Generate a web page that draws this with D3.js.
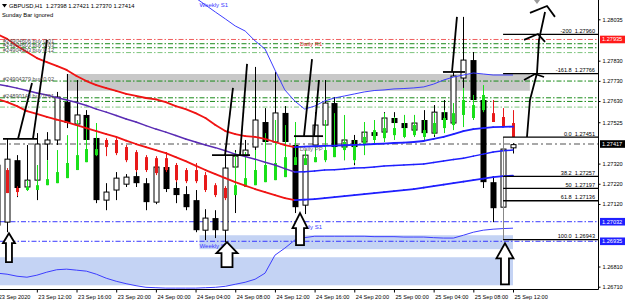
<!DOCTYPE html>
<html>
<head>
<meta charset="utf-8">
<script src="https://cdn.jsdelivr.net/npm/d3@7/dist/d3.min.js"></script>
<style>
  body { margin: 0; background: #fff; }
  text { font-family: "Liberation Sans", Arial, sans-serif; }
</style>
</head>
<body>
<svg id="chart" width="625" height="306"></svg>
<script>
// GBPUSD H1 bars, 23 Sep 08:00 .. 25 Sep 12:00 (53 bars)
var barOpen = [1.27015,1.27030,1.27337,1.27204,1.27238,1.27417,1.27437,1.27625,1.27516,1.27561,
  1.27447,1.27139,1.27189,1.27218,1.27258,1.27223,1.27129,1.27303,1.27199,1.27169,
  1.27139,1.26990,1.27050,1.26990,1.27303,1.27362,1.27402,1.27526,1.27427,1.27571,
  1.27412,1.27114,1.27412,1.27511,1.27620,1.27402,1.27437,1.27427,1.27476,1.27476,
  1.27546,1.27521,1.27486,1.27536,1.27471,1.27575,1.27521,1.27744,1.27833,1.27635,
  1.27228,1.27104,1.27398];
var barHigh = [1.27337,1.27442,1.27362,1.27412,1.27471,1.27476,1.27675,1.27764,1.27734,1.27585,
  1.27462,1.27223,1.27278,1.27268,1.27278,1.27248,1.27337,1.27337,1.27238,1.27208,
  1.27189,1.27094,1.27089,1.27377,1.27387,1.27437,1.27799,1.27595,1.27774,1.27605,
  1.27442,1.27387,1.27575,1.27734,1.27650,1.27471,1.27462,1.27506,1.27511,1.27575,
  1.27575,1.27561,1.27561,1.27585,1.27610,1.27635,1.27774,1.28047,1.27873,1.27685,
  1.27258,1.27412,1.27421];
var barLow = [1.26980,1.26980,1.27154,1.27189,1.27139,1.27337,1.27412,1.27496,1.27496,1.27422,
  1.27124,1.27089,1.27139,1.27204,1.27204,1.27089,1.27119,1.27179,1.27124,1.27089,
  1.26980,1.26941,1.26951,1.26931,1.27075,1.27327,1.27387,1.27387,1.27407,1.27407,
  1.27075,1.27070,1.27387,1.27496,1.27387,1.27337,1.27312,1.27397,1.27412,1.27437,
  1.27452,1.27462,1.27452,1.27437,1.27452,1.27511,1.27496,1.27635,1.27610,1.27199,
  1.27030,1.26943,1.27370];
var barClose = [1.27312,1.27342,1.27199,1.27238,1.27417,1.27437,1.27650,1.27521,1.27561,1.27437,
  1.27139,1.27179,1.27248,1.27253,1.27223,1.27129,1.27303,1.27194,1.27164,1.27104,
  1.26990,1.27050,1.26990,1.27298,1.27357,1.27387,1.27536,1.27427,1.27571,1.27427,
  1.27104,1.27362,1.27511,1.27620,1.27402,1.27437,1.27402,1.27476,1.27457,1.27546,
  1.27521,1.27496,1.27521,1.27471,1.27575,1.27536,1.27754,1.27833,1.27635,1.27228,
  1.27099,1.27392,1.27414];

// smoothed (heiken ashi style) overlay bars
var haOpen = [1.27313,1.27288,1.27199,1.27189,1.27189,1.27213,1.27223,1.27248,1.27288,1.27327,
  1.27362,1.27437,1.27437,1.27402,1.27377,1.27352,1.27347,1.27347,1.27313,1.27288,
  1.27288,1.27263,1.27213,1.27199,1.27164,1.27204,1.27213,1.27228,1.27238,1.27253,
  1.27313,1.27313,1.27327,1.27337,1.27352,1.27387,1.27337,1.27412,1.27437,1.27446,
  1.27461,1.27452,1.27461,1.27452,1.27471,1.27496,1.27511,1.27561,1.27546,1.27585,
  1.27570,1.27551,1.27521];
var haClose = [1.27213,1.27174,1.27179,1.27204,1.27213,1.27243,1.27278,1.27323,1.27362,1.27392,
  1.27392,1.27402,1.27372,1.27337,1.27288,1.27288,1.27273,1.27288,1.27238,1.27233,
  1.27233,1.27189,1.27164,1.27149,1.27213,1.27248,1.27288,1.27313,1.27323,1.27352,
  1.27352,1.27347,1.27352,1.27387,1.27402,1.27427,1.27412,1.27452,1.27486,1.27496,
  1.27496,1.27496,1.27511,1.27486,1.27521,1.27546,1.27570,1.27635,1.27610,1.27660,
  1.27526,1.27501,1.27452];
var haHigh = [1.27337,1.27298,1.27208,1.27238,1.27313,1.27337,1.27387,1.27461,1.27536,1.27546,
  1.27521,1.27446,1.27446,1.27412,1.27387,1.27362,1.27357,1.27377,1.27323,1.27298,
  1.27323,1.27278,1.27223,1.27208,1.27377,1.27377,1.27387,1.27471,1.27536,1.27511,
  1.27526,1.27387,1.27412,1.27536,1.27570,1.27561,1.27437,1.27526,1.27536,1.27570,
  1.27551,1.27561,1.27561,1.27536,1.27570,1.27585,1.27620,1.27695,1.27660,1.27709,
  1.27635,1.27595,1.27585];
var haLow = [1.27199,1.27174,1.27159,1.27184,1.27189,1.27213,1.27223,1.27248,1.27288,1.27327,
  1.27357,1.27357,1.27362,1.27327,1.27278,1.27278,1.27263,1.27278,1.27228,1.27223,
  1.27223,1.27179,1.27154,1.27139,1.27164,1.27204,1.27213,1.27228,1.27238,1.27253,
  1.27313,1.27313,1.27327,1.27327,1.27352,1.27337,1.27323,1.27362,1.27412,1.27427,
  1.27437,1.27446,1.27452,1.27437,1.27461,1.27471,1.27486,1.27501,1.27536,1.27575,
  1.27526,1.27501,1.27452];

// moving averages
var maFast = [1.27962,1.27938,1.27903,1.27873,1.27843,1.27823,1.27804,1.27784,1.27754,1.27729,
  1.27709,1.27694,1.27680,1.27665,1.27655,1.27645,1.27638,1.27625,1.27605,1.27590,
  1.27570,1.27546,1.27511,1.27481,1.27466,1.27456,1.27452,1.27442,1.27427,1.27412,
  1.27402,1.27404,1.27406,1.27408,1.27409,1.27411,1.27413,1.27414,1.27417,1.27419,
  1.27422,1.27424,1.27427,1.27432,1.27442,1.27452,1.27466,1.27481,1.27491,1.27496,
  1.27501,1.27502,1.27503];
var maMid = [1.27714,1.27704,1.27694,1.27682,1.27670,1.27660,1.27647,1.27635,1.27623,1.27608,
  1.27590,1.27575,1.27558,1.27541,1.27526,1.27508,1.27491,1.27476,1.27459,1.27442,
  1.27427,1.27412,1.27399,1.27384,1.27367,1.27355,1.27342,1.27327,1.27313,1.27295,
  1.27278,1.27280,1.27283,1.27288,1.27290,1.27293,1.27298,1.27300,1.27303,1.27308,
  1.27310,1.27313,1.27315,1.27318,1.27325,1.27333,1.27340,1.27347,1.27357,1.27367,
  1.27377,1.27384,1.27387];
var maSlow = [1.27640,1.27625,1.27605,1.27580,1.27566,1.27551,1.27538,1.27526,1.27511,1.27496,
  1.27481,1.27466,1.27452,1.27434,1.27417,1.27402,1.27387,1.27372,1.27352,1.27332,
  1.27310,1.27288,1.27268,1.27248,1.27228,1.27211,1.27194,1.27179,1.27164,1.27149,
  1.27139,1.27141,1.27144,1.27149,1.27154,1.27159,1.27164,1.27169,1.27174,1.27179,
  1.27184,1.27189,1.27194,1.27201,1.27208,1.27216,1.27223,1.27231,1.27238,1.27245,
  1.27253,1.27258,1.27260];

// envelope bands (upper only visible from bar 20)
var bandUpper = [null,null,null,null,null,null,null,null,null,null,
  null,null,null,null,null,null,null,null,null,null,
  1.28141,1.28106,1.28071,1.28037,1.28002,1.27977,1.27928,1.27888,1.27784,1.27685,
  1.27630,1.27590,1.27605,1.27630,1.27645,1.27655,1.27665,1.27675,1.27682,1.27685,
  1.27690,1.27692,1.27695,1.27700,1.27714,1.27734,1.27749,1.27759,1.27769,1.27764,
  1.27759,1.27759,1.27759];
var bandLower = [1.26777,1.26772,1.26762,1.26757,1.26767,1.26782,1.26794,1.26797,1.26792,1.26787,
  1.26772,1.26752,1.26737,1.26725,1.26715,1.26707,1.26705,1.26703,1.26703,1.26703,
  1.26703,1.26705,1.26707,1.26712,1.26722,1.26732,1.26747,1.26777,1.26866,1.26901,
  1.26941,1.26953,1.26960,1.26960,1.26960,1.26960,1.26960,1.26960,1.26958,1.26958,
  1.26958,1.26956,1.26956,1.26956,1.26953,1.26951,1.26951,1.26965,1.26980,1.26990,
  1.26995,1.26998,1.27000];

// rectangles: [fromBar, toBar, topPrice, bottomPrice]
var supplyZone = [7, 53.7, 1.27764, 1.27681];
var demandZones = [[20.4, 52, 1.26965, 1.26896], [-1, 52, 1.26856, 1.26717]];

// pivot lines
var pivotNames = ["Daily R1", "Daily PP", "Daily S1", "Weekly S1"];
var pivotPrices = [1.27935, 1.27417, 1.27032, 1.26935];

// open orders
var orderNames = ["#24904606 buy 0.01", "#24904603 buy 0.03", "#24904503 buy 0.12",
  "#24904379 buy 0.02", "#24890143 buy 0.01", "", ""];
var orderPrices = [1.27914, 1.27894, 1.27870, 1.27729, 1.27646, 1.27628, 1.27600];

// fibonacci
var fibLevels = ["-200", "-161.8", "0.0", "38.2", "50", "61.8", "100.0"];
var fibPrices = [1.27960, 1.27766, 1.27451, 1.27257, 1.27197, 1.27136, 1.26943];
var fibStartBar = 51;

// hand drawn lines, points are [bar, price]
var drawnLines = [
  [[0.59, 1.27442], [4.02, 1.27442]],
  [[2.10, 1.27442], [3.51, 1.27719]],
  [[3.61, 1.27442], [5.02, 1.27933]],
  [[21.66, 1.27362], [25.49, 1.27362]],
  [[22.97, 1.27362], [23.77, 1.27695]],
  [[24.48, 1.27362], [25.19, 1.27814]],
  [[29.92, 1.27456], [32.85, 1.27456]],
  [[30.93, 1.27456], [31.74, 1.27838]],
  [[31.94, 1.27456], [32.44, 1.27734]],
  [[44.94, 1.27774], [47.16, 1.27774]],
  [[45.85, 1.27774], [46.35, 1.28047]],
  [[53.41, 1.27452], [53.71, 1.27635], [54.42, 1.27769], [54.62, 1.27933], [55.23, 1.28071]],
  [[53.71, 1.28067], [55.43, 1.28101], [56.23, 1.28047]],
  [[53.11, 1.27933], [54.52, 1.27962], [55.23, 1.27923]],
  [[53.11, 1.27734], [54.22, 1.27764], [55.13, 1.27749]]
];

// up arrows, tip anchored at [bar, price]
var arrowBars = [1.19, 23.17, 30.53, 51.19];
var arrowPrices = [1.26975, 1.26931, 1.27075, 1.26925];

var priceTicks = [1.28035, 1.27830, 1.27730, 1.27630, 1.27525, 1.27320,
  1.27220, 1.27120, 1.26810, 1.26710];
var timeTicks = [0, 4, 8, 12, 16, 20, 24, 28, 32, 36, 40, 44, 48, 52];
var timeLabels = ["23 Sep 2020", "23 Sep 12:00", "23 Sep 16:00", "23 Sep 20:00", "24 Sep 00:00",
  "24 Sep 04:00", "24 Sep 08:00", "24 Sep 12:00", "24 Sep 16:00", "24 Sep 20:00",
  "25 Sep 00:00", "25 Sep 04:00", "25 Sep 08:00", "25 Sep 12:00"];

var plotW = 598, plotH = 289;
var fontSize = 5.6;

var svg = d3.select("#chart");
var x = d3.scaleLinear().domain([0, 52]).range([-2.84, 513]);
var y = d3.scaleLinear().domain([1.26710, 1.28035]).range([286.7, 19.3]);

svg.append("rect").attr("width", 625).attr("height", 306).attr("fill", "#fff");
svg.append("clipPath").attr("id", "plotclip")
  .append("rect").attr("width", plotW).attr("height", plotH);
var plot = svg.append("g").attr("clip-path", "url(#plotclip)");

// zones
var zoneRect = function(z, color) {
  plot.append("rect")
    .attr("x", x(z[0])).attr("y", y(z[2]))
    .attr("width", x(z[1]) - x(z[0])).attr("height", y(z[3]) - y(z[2]))
    .attr("fill", color);
};
zoneRect(supplyZone, "#c8c8c8");
demandZones.forEach(function(z) { zoneRect(z, "#c4d3f4"); });

// horizontal levels
var hline = function(price, color, width, dash) {
  plot.append("line")
    .attr("x1", 0).attr("x2", plotW)
    .attr("y1", y(price)).attr("y2", y(price))
    .attr("stroke", color).attr("stroke-width", width)
    .attr("stroke-dasharray", dash);
};
var orderColors = ["#1a8a1a", "#1a8a1a", "#7cc47c", "#1a8a1a", "#1a8a1a", "#1a8a1a", "#7cc47c"];
orderPrices.forEach(function(p, i) { hline(p, orderColors[i], 1, "5,2,1.5,2"); });
var pivotColors = ["#f06060", "#8c8c8c", "#3a3aff", "#3a3aff"];
pivotPrices.forEach(function(p, i) {
  hline(p, pivotColors[i], i == 1 ? 1.6 : 1, i == 1 ? "6,3,2,3" : "5,2,1.5,2");
});

// candles
var bars = d3.range(barOpen.length).map(function(i) {
  return {i: i, o: barOpen[i], h: barHigh[i], l: barLow[i], c: barClose[i]};
});
bars.forEach(function(b) {
  var cx = Math.round(x(b.i)) + 0.5;
  plot.append("line")
    .attr("x1", cx).attr("x2", cx)
    .attr("y1", y(b.h)).attr("y2", y(b.l))
    .attr("stroke", "#000").attr("stroke-width", 1);
  var top = y(Math.max(b.o, b.c)), bot = y(Math.min(b.o, b.c));
  if (b.c >= b.o) {
    plot.append("rect")
      .attr("x", cx - 2.5).attr("y", top)
      .attr("width", 5).attr("height", Math.max(bot - top, 1))
      .attr("fill", "#fff").attr("stroke", "#000").attr("stroke-width", 1);
  } else {
    plot.append("rect")
      .attr("x", cx - 3).attr("y", top)
      .attr("width", 6).attr("height", Math.max(bot - top, 1))
      .attr("fill", "#000");
  }
});

// smoothed bars
d3.range(haOpen.length).forEach(function(i) {
  var cx = Math.round(x(i)) + 0.5;
  var col = haClose[i] >= haOpen[i] ? "#19e019" : "#e81a1a";
  plot.append("line")
    .attr("x1", cx).attr("x2", cx)
    .attr("y1", y(haHigh[i])).attr("y2", y(haLow[i]))
    .attr("stroke", col).attr("stroke-width", 1);
  plot.append("line")
    .attr("x1", cx).attr("x2", cx)
    .attr("y1", y(haOpen[i])).attr("y2", y(haClose[i]))
    .attr("stroke", col).attr("stroke-width", 3);
});

// moving averages, coloured by slope
var drawMA = function(values, upColor, downColor, width) {
  for (var i = 1; i < values.length; i++) {
    if (values[i] == null || values[i - 1] == null) continue;
    plot.append("line")
      .attr("x1", x(i - 1)).attr("y1", y(values[i - 1]))
      .attr("x2", x(i)).attr("y2", y(values[i]))
      .attr("stroke", values[i] >= values[i - 1] ? upColor : downColor)
      .attr("stroke-width", width).attr("stroke-linecap", "round");
  }
};
drawMA(maSlow, "#1f1fff", "#f01414", 1.8);
drawMA(maMid, "#1f1fff", "#5a2cb4", 1.5);
drawMA(maFast, "#1f1fff", "#f01414", 1.8);

// bands
var bandLine = d3.line()
  .defined(function(d) { return d != null; })
  .x(function(d, i) { return x(i); })
  .y(function(d) { return y(d); });
[bandUpper, bandLower].forEach(function(b) {
  plot.append("path").attr("d", bandLine(b))
    .attr("fill", "none").attr("stroke", "#3d3dff").attr("stroke-width", 1);
});

// fibonacci
plot.append("line")
  .attr("x1", Math.round(x(fibStartBar)) + 0.5).attr("x2", Math.round(x(fibStartBar)) + 0.5)
  .attr("y1", y(fibPrices[2])).attr("y2", y(fibPrices[6]))
  .attr("stroke", "#888").attr("stroke-width", 1);
fibPrices.forEach(function(p, i) {
  plot.append("line")
    .attr("x1", x(fibStartBar)).attr("x2", plotW)
    .attr("y1", y(p)).attr("y2", y(p))
    .attr("stroke", "#000").attr("stroke-width", 1.3);
  plot.append("text")
    .attr("x", 595).attr("y", y(p) - 1.5)
    .attr("text-anchor", "end").attr("font-size", fontSize).attr("fill", "#000")
    .attr("xml:space", "preserve")
    .text(fibLevels[i] + "  " + d3.format(".5f")(p));
});

// hand drawn lines
var drawn = d3.line()
  .x(function(d) { return x(d[0]); })
  .y(function(d) { return y(d[1]); });
drawnLines.forEach(function(pts) {
  plot.append("path").attr("d", drawn(pts))
    .attr("fill", "none").attr("stroke", "#000").attr("stroke-width", 1.8)
    .attr("stroke-linejoin", "round");
});

// level labels
var orderLabelColor = "#505050";
orderPrices.forEach(function(p, i) {
  if (!orderNames[i]) return;
  plot.append("text")
    .attr("x", 3).attr("y", y(p) - (i == 0 ? 1.2 : 0.3))
    .attr("font-size", fontSize).attr("fill", orderLabelColor)
    .text(orderNames[i]);
});
var pivotLabelBar = [30.5, 30.5, 30.5, 20.4];
pivotPrices.forEach(function(p, i) {
  plot.append("text")
    .attr("x", x(pivotLabelBar[i])).attr("y", y(p) + 7)
    .attr("font-size", fontSize + 0.4).attr("fill", i == 0 ? "#e03030" : (i == 1 ? "#6a6a6a" : "#3a3aff"))
    .text(pivotNames[i]);
});
plot.append("text")
  .attr("x", x(20.4)).attr("y", 7)
  .attr("font-size", fontSize + 0.4).attr("fill", "#3a3aff")
  .text("Weekly S1");

// hollow up arrows
var arrowW = [12, 21, 15, 17], arrowH = [29, 25, 32, 41], arrowHead = [10, 11, 15, 15], arrowShaft = [6, 11, 8, 8];
arrowBars.forEach(function(b, i) {
  var tx = x(b), ty = y(arrowPrices[i]);
  var w = arrowW[i] / 2, s = arrowShaft[i] / 2, hh = arrowHead[i], h = arrowH[i];
  var pts = [[0, 0], [w, hh], [s, hh], [s, h], [-s, h], [-s, hh], [-w, hh]];
  plot.append("path")
    .attr("d", "M" + pts.map(function(p) { return (tx + p[0]) + "," + (ty + p[1]); }).join("L") + "Z")
    .attr("fill", "#fff").attr("stroke", "#000").attr("stroke-width", 1.8)
    .attr("stroke-linejoin", "miter");
});

// chart shift marker
svg.append("path").attr("d", "M534,0L540,0L537,4Z").attr("fill", "#999");

// frame
svg.append("line").attr("x1", plotW + 0.5).attr("x2", plotW + 0.5).attr("y1", 0).attr("y2", plotH + 0.5)
  .attr("stroke", "#000");
svg.append("line").attr("x1", 0).attr("x2", plotW + 0.5).attr("y1", plotH + 0.5).attr("y2", plotH + 0.5)
  .attr("stroke", "#000");

// axes
var yAxis = svg.append("g").attr("transform", "translate(" + (plotW + 0.5) + ",0)")
  .call(d3.axisRight(y).tickValues(priceTicks).tickFormat(d3.format(".5f")).tickSize(2).tickPadding(2));
yAxis.select(".domain").remove();
yAxis.selectAll("text").attr("font-size", fontSize).attr("font-family", "Liberation Sans, Arial");

var xAxis = svg.append("g").attr("transform", "translate(0," + (plotH + 0.5) + ")")
  .call(d3.axisBottom(x).tickValues(timeTicks)
    .tickFormat(function(d, i) { return timeLabels[i]; }).tickSize(3).tickPadding(3));
xAxis.select(".domain").remove();
xAxis.selectAll("text").attr("font-size", fontSize).attr("font-family", "Liberation Sans, Arial")
  .attr("text-anchor", "start").attr("dx", 1);

// price boxes on the axis
var boxColors = ["#ff1a1a", "#000", "#2020ff", "#2020ff"];
pivotPrices.forEach(function(p, i) {
  svg.append("rect")
    .attr("x", 600).attr("y", y(p) - 3.8).attr("width", 25).attr("height", 7.6)
    .attr("fill", boxColors[i]);
  svg.append("text")
    .attr("x", 602).attr("y", y(p) + 2)
    .attr("font-size", fontSize).attr("fill", "#fff")
    .text(d3.format(".5f")(p));
});

// header
svg.append("path").attr("d", "M2,4L7,4L4.5,7.5Z").attr("fill", "#000");
svg.append("text").attr("x", 9).attr("y", 8)
  .attr("font-size", fontSize + 0.2).attr("fill", "#000").attr("xml:space", "preserve")
  .text("GBPUSD,H1  1.27398 1.27421 1.27370 1.27414");
svg.append("text").attr("x", 2).attr("y", 17)
  .attr("font-size", fontSize + 0.2).attr("fill", "#000")
  .text("Sunday Bar ignored");
</script>
</body>
</html>
